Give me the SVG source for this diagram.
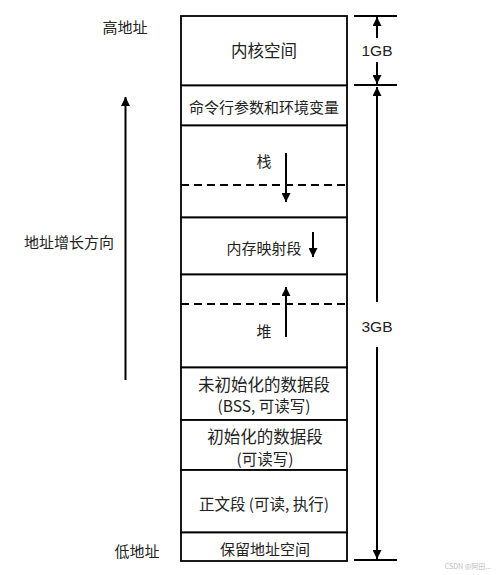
<svg xmlns="http://www.w3.org/2000/svg" width="500" height="575" viewBox="0 0 500 575">
<style>
.box{fill:#fff;stroke:#000;stroke-width:1.8}
.dash{stroke:#000;stroke-width:1.8;stroke-dasharray:8 5;fill:none}
.t{font-family:"Noto Sans CJK SC","Noto Sans",sans-serif;fill:#222;text-anchor:middle;dominant-baseline:central}
.g{font-family:"Liberation Sans",Arial,sans-serif;fill:#222;text-anchor:middle;dominant-baseline:central;font-size:15.5px}
.ln{stroke:#000;stroke-width:1.8;fill:none}
.ar{stroke:#000;stroke-width:2;fill:none;marker-end:url(#ah)}
</style>
<defs>
<marker id="ah" viewBox="0 0 10 10" refX="10" refY="5" markerWidth="9" markerHeight="9" markerUnits="userSpaceOnUse" orient="auto">
<path d="M0,0 L10,5 L0,10 z" fill="#000"/>
</marker>
</defs>
<rect width="500" height="575" fill="#fff"/>
<g id="kernel"><rect class="box" x="181" y="16" width="166" height="69.5"/><text class="t" x="264" y="50" font-size="16.5">内核空间</text></g>
<g id="env"><rect class="box" x="181" y="85.5" width="166" height="40"/><text class="t" x="264" y="106" font-size="15">命令行参数和环境变量</text></g>
<g id="stack"><rect class="box" x="181" y="125.5" width="166" height="92"/><line class="dash" x1="181" y1="185" x2="347" y2="185"/><text class="t" x="264" y="160" font-size="15">栈</text></g>
<g id="mmap"><rect class="box" x="181" y="217.5" width="166" height="57"/><text class="t" x="264" y="247" font-size="15">内存映射段</text></g>
<g id="heap"><rect class="box" x="181" y="274.5" width="166" height="93"/><line class="dash" x1="181" y1="304" x2="347" y2="304"/><text class="t" x="264" y="330" font-size="15">堆</text></g>
<g id="bss"><rect class="box" x="181" y="367.5" width="166" height="52.5"/><text class="t" x="264" y="383.5" font-size="16.5">未初始化的数据段</text><text class="t" x="264" y="405" font-size="15.5">(BSS, 可读写)</text></g>
<g id="data"><rect class="box" x="181" y="420" width="166" height="50"/><text class="t" x="265" y="435.5" font-size="16.5">初始化的数据段</text><text class="t" x="265" y="457.5" font-size="15.5">(可读写)</text></g>
<g id="text"><rect class="box" x="181" y="470" width="166" height="62.5"/><text class="t" x="264" y="503" font-size="15.5">正文段 (可读, 执行)</text></g>
<g id="reserved"><rect class="box" x="181" y="532.5" width="166" height="28.5"/><text class="t" x="265" y="548" font-size="15">保留地址空间</text></g>
<g id="labels">
<text class="t" x="125" y="26" font-size="15">高地址</text>
<text class="t" x="69" y="241" font-size="15">地址增长方向</text>
<text class="t" x="137" y="550" font-size="15">低地址</text>
<text class="g" x="377" y="50">1GB</text>
<text class="g" x="377" y="326">3GB</text>
<text x="468" y="566" font-family="'Noto Sans CJK SC',sans-serif" font-size="7" fill="#bbb" text-anchor="middle" dominant-baseline="central">CSDN @阿田...</text>
</g>
<g id="connectors">
<line class="ar" x1="125.5" y1="380" x2="125.5" y2="97"/>
<line class="ar" x1="286" y1="153" x2="286" y2="202"/>
<line class="ar" x1="313" y1="232" x2="313" y2="257"/>
<line class="ar" x1="286" y1="337" x2="286" y2="287"/>
<line class="ln" x1="354" y1="16" x2="397" y2="16"/>
<line class="ln" x1="354" y1="85" x2="397" y2="85"/>
<line class="ln" x1="354" y1="560" x2="397" y2="560"/>
<line class="ar" x1="377" y1="38" x2="377" y2="17"/>
<line class="ar" x1="377" y1="62" x2="377" y2="84"/>
<line class="ar" x1="377" y1="302" x2="377" y2="87"/>
<line class="ar" x1="377" y1="347" x2="377" y2="559"/>
</g>
</svg>
